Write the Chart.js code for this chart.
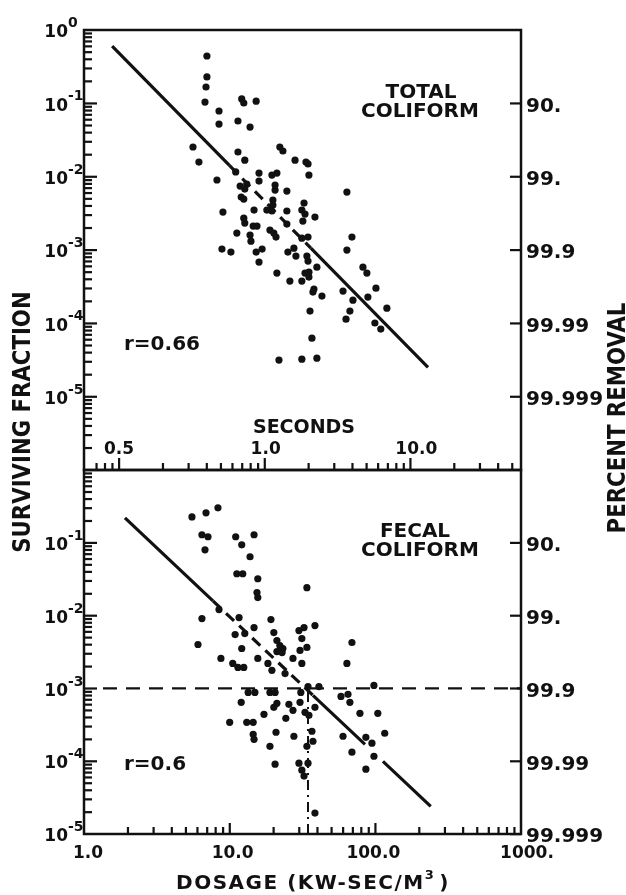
<!DOCTYPE html>
<html>
<head>
<meta charset="utf-8">
<script src="https://cdn.jsdelivr.net/npm/chart.js@4.4.0/dist/chart.umd.min.js"></script>
<style>
  html, body { margin: 0; background: #fff; }
  #wrap { position: relative; width: 626px; height: 895px; }
  #wrap canvas { position: absolute; left: 0; top: 0; }
</style>
</head>
<body>
<div id="wrap">
  <canvas id="topChart" width="626" height="895"></canvas>
  <canvas id="botChart" width="626" height="895"></canvas>
</div>
<script>
// ---- total coliform (top panel): dosage kW-sec/m3 vs surviving fraction
const totalDose = [
  6.98, 6.98, 6.88, 6.77, 8.45, 8.45, 12.1, 12.5, 15.2, 11.4,
  13.8, 5.60, 6.15, 11.4, 12.7, 22.1, 23.2, 28.1, 33.4, 34.5,
  35.0, 8.18, 11.0, 15.9, 15.9, 19.5, 21.1, 11.8, 13.1, 12.7,
  12.0, 12.5, 20.5, 20.5, 24.7, 8.99, 14.7, 18.0, 19.5, 19.8,
  19.8, 24.7, 32.4, 31.3, 32.9, 31.8, 38.5, 12.5, 12.7, 14.5,
  15.4, 24.7, 11.2, 13.8, 14.0, 18.9, 20.1, 20.8, 31.3, 34.5,
  8.85, 10.2, 15.2, 16.7, 15.9, 25.1, 27.6, 28.5, 33.9, 34.5,
  39.7, 32.9, 35.0, 35.0, 21.1, 25.9, 31.3, 37.9, 37.3, 43.0,
  35.6, 36.7, 21.8, 31.3, 39.7, 63.8, 69.1, 63.8, 82.2, 87.5,
  60.0, 70.2, 101, 88.9, 66.9, 62.9, 120, 99.3, 109
];
const totalFrac = [
  0.442, 0.229, 0.167, 0.104, 0.0786, 0.0522, 0.115, 0.101, 0.107, 0.0574,
  0.0475, 0.0254, 0.0158, 0.0217, 0.0168, 0.0254, 0.0224, 0.0168, 0.0158, 0.0149,
  0.0105, 0.0090, 0.0116, 0.0112, 0.0087, 0.0105, 0.0112, 0.00745, 0.00792, 0.00678,
  0.00527, 0.00495, 0.00768, 0.00656, 0.00637, 0.00329, 0.00350, 0.00350, 0.00340, 0.00480,
  0.00410, 0.00340, 0.00437, 0.00350, 0.00309, 0.00248, 0.00281, 0.00272, 0.00233, 0.00212,
  0.00212, 0.00226, 0.00170, 0.00160, 0.00132, 0.00187, 0.00170, 0.00150, 0.00145, 0.00150,
  0.00103, 0.000936, 0.000936, 0.00103, 0.000684, 0.000936, 0.00106, 0.000826, 0.000826, 0.000706,
  0.000584, 0.000484, 0.000499, 0.000427, 0.000484, 0.000377, 0.000377, 0.000293, 0.000267, 0.000235,
  0.000147, 0.0000628, 0.0000315, 0.0000325, 0.0000335, 0.00617, 0.00150, 0.000997, 0.000584, 0.000484,
  0.000275, 0.000207, 0.000302, 0.000228, 0.000147, 0.000114, 0.000161, 0.000101, 0.0000834
];
// regression line, broken where it runs through the dots
const totalFitDose = [1.56, 10.0, 36.1, 230];
const totalFitFrac = [0.605, 0.0141, 0.00106, 0.000025];

// ---- fecal coliform (bottom panel)
const fecalDose = [
  5.51, 6.88, 8.31, 6.45, 7.10, 6.77, 11.0, 12.1, 14.7, 13.8,
  11.2, 12.3, 15.6, 15.4, 15.6, 33.9, 8.45, 6.45, 6.06, 11.6,
  10.9, 12.7, 14.7, 12.1, 19.2, 20.1, 21.1, 22.1, 23.2, 21.1,
  22.9, 29.9, 32.4, 38.5, 31.3, 30.4, 33.9, 8.71, 15.6, 27.2,
  31.3, 18.3, 19.5, 10.5, 11.4, 12.5, 24.0,
  13.4, 14.9, 18.9, 20.5, 30.8, 34.5, 41.0,
  12.0, 21.1, 20.1, 25.5, 27.2, 30.4, 32.9, 35.0, 38.5, 17.2,
  24.3, 10.0, 13.1, 14.5, 20.8, 27.6, 14.5, 14.7, 36.7, 37.3,
  18.9, 33.9, 20.5, 29.9, 34.5, 31.3, 32.4, 38.5, 69.1, 63.8,
  58.1, 64.9, 66.9, 97.8, 78.4, 104, 60.0, 86.1, 94.8, 116, 69.1, 97.8, 86.1
];
const fecalFrac = [
  0.227, 0.258, 0.302, 0.129, 0.121, 0.0802, 0.121, 0.0939, 0.129, 0.0643,
  0.0376, 0.0376, 0.0321, 0.0207, 0.0177, 0.0242, 0.0121, 0.00910, 0.00401, 0.00940,
  0.00549, 0.00567, 0.00685, 0.00353, 0.00881, 0.00585, 0.00455, 0.00388, 0.00353, 0.00321,
  0.00311, 0.00623, 0.00685, 0.00730, 0.00484, 0.00332, 0.00365, 0.00258, 0.00258, 0.00258,
  0.00220, 0.00220, 0.00177, 0.00220, 0.00194, 0.00194, 0.00160,
  0.000881, 0.000881, 0.000881, 0.000881, 0.000881, 0.00106, 0.00106,
  0.000643, 0.000623, 0.000550, 0.000604, 0.000500, 0.000643, 0.000469, 0.000427, 0.000550, 0.000441,
  0.000388, 0.000342, 0.000342, 0.000342, 0.000250, 0.000220, 0.000234, 0.000200, 0.000258, 0.000188,
  0.000160, 0.000160, 0.0000910, 0.0000939, 0.0000939, 0.0000753, 0.0000624, 0.0000194, 0.00427, 0.00220,
  0.000777, 0.000828, 0.000643, 0.00110, 0.000455, 0.000455, 0.000220, 0.000213, 0.000177, 0.000242,
  0.000133, 0.000117, 0.0000777
];
const fecalFitDose = [1.91, 7.68, 37.3, 84.9, 112.8, 240];
const fecalFitFrac = [0.22, 0.0159, 0.000804, 0.000170, 0.0000997, 0.000024];
// 99.9 % removal guide lines
const limitFrac = 0.001;
const limitDose = 34.5;
const limitStartDose = 1.35;

// ---- axes
const doseTicks = [1, 10, 100, 1000];
const doseTickLabels = ['1.0', '10.0', '100.0', '1000.'];
const secTicks = [0.1, 1, 10];
const secTickLabels = ['0.5', '1.0', '10.0'];   // as printed on the original
const secRange = [0.0575, 57.5];                 // seconds matching dosage 1 .. 1000
const totalExps = [0, -1, -2, -3, -4, -5];
const fecalExps = [-1, -2, -3, -4, -5];
const removalFrac = [1e-1, 1e-2, 1e-3, 1e-4, 1e-5];
const removalLabels = ['90.', '99.', '99.9', '99.99', '99.999'];

const INK = '#111';
const FONT = '"DejaVu Sans", sans-serif';

function logTicks(min, max) {
  const out = [];
  for (let e = Math.floor(Math.log10(min)); e <= Math.ceil(Math.log10(max)); e++) {
    for (let m = 1; m <= 9; m++) {
      const v = m * Math.pow(10, e);
      if (v >= min * 0.999 && v <= max * 1.001) out.push({ v: v, major: m === 1 });
    }
  }
  return out;
}

// text centred vertically on cy (cap height)
function text(ctx, str, x, cy, size, align) {
  ctx.font = 'bold ' + size + 'px ' + FONT;
  ctx.textAlign = align;
  ctx.textBaseline = 'alphabetic';
  ctx.fillText(str, x, cy + size * 0.365);
}

function scatterSet(xs, ys) {
  return {
    data: xs.map((x, i) => ({ x: x, y: ys[i] })),
    pointRadius: 3.6, pointBackgroundColor: INK, pointBorderWidth: 0, showLine: false
  };
}

function segSet(xs, ys, i, j, dash, width) {
  return {
    data: [{ x: xs[i], y: ys[i] }, { x: xs[j], y: ys[j] }],
    showLine: true, pointRadius: 0, borderColor: INK,
    borderWidth: width || 3.2, borderDash: dash || []
  };
}

function panelFrame(p) {
  return {
    id: 'panelframe',
    afterDraw(chart) {
      const ctx = chart.ctx, a = chart.chartArea;
      const ys = chart.scales.y, xs = chart.scales[p.xScale];
      ctx.save();
      ctx.setLineDash([]);
      ctx.strokeStyle = INK;
      ctx.fillStyle = INK;
      ctx.lineWidth = 2.5;
      ctx.strokeRect(a.left, a.top, a.right - a.left, a.bottom - a.top);

      // left axis ticks, pointing in
      logTicks(ys.min, ys.max).forEach(k => {
        const y = ys.getPixelForValue(k.v);
        if (y > a.top + 2 && y < a.bottom - 2) ctx.fillRect(a.left, y - 1, k.major ? 13 : 8, 2.2);
      });
      // right axis ticks (percent removal)
      removalFrac.forEach(v => {
        const y = ys.getPixelForValue(v);
        ctx.fillRect(a.right - 11, y - 1, 11, 2.2);
      });
      // bottom axis ticks, pointing up
      logTicks(xs.min, xs.max).forEach(k => {
        const x = xs.getPixelForValue(k.v);
        const len = k.major ? p.majorLen : p.minorLen;
        if (x > a.left + 4 && x < a.right - 3) ctx.fillRect(x - 1, a.bottom - len, 2.2, len);
      });

      // left labels 10^n
      p.exps.forEach(e => {
        const y = ys.getPixelForValue(Math.pow(10, e));
        text(ctx, '10', 68, y + 1, 17, 'right');
        text(ctx, String(e), 68, y - 8, 14, 'left');
      });
      // right labels
      removalFrac.forEach((v, i) => {
        text(ctx, removalLabels[i], 526, ys.getPixelForValue(v) + 1, 20, 'left');
      });
      // bottom tick labels
      p.xTicks.forEach((v, i) => {
        text(ctx, p.xLabels[i], xs.getPixelForValue(v) + p.xLabelShift[i], p.xLabelY, 17, 'center');
      });
      // panel name and correlation
      text(ctx, p.name[0], p.nameX[0], p.nameY, 20, 'center');
      text(ctx, p.name[1], p.nameX[1], p.nameY + 19, 20, 'center');
      text(ctx, p.r, 124, p.rY, 20, 'left');
      if (p.extra) p.extra(ctx);
      ctx.restore();
    }
  };
}

function options(yMin, padding, extra) {
  const scales = {
    x: { type: 'logarithmic', min: 1, max: 1000, display: false },
    y: { type: 'logarithmic', min: yMin, max: 1, display: false }
  };
  if (extra) Object.assign(scales, extra);
  return {
    responsive: false, animation: false, devicePixelRatio: 1,
    layout: { padding: padding },
    plugins: { legend: { display: false }, tooltip: { enabled: false } },
    scales: scales
  };
}

new Chart(document.getElementById('topChart'), {
  type: 'scatter',
  data: {
    datasets: [
      scatterSet(totalDose, totalFrac),
      segSet(totalFitDose, totalFitFrac, 0, 1),
      segSet(totalFitDose, totalFitFrac, 1, 2, [11, 7]),
      segSet(totalFitDose, totalFitFrac, 2, 3)
    ]
  },
  options: options(1e-6, { left: 84, right: 105, top: 30, bottom: 425 }, {
    sec: { type: 'logarithmic', axis: 'x', min: secRange[0], max: secRange[1], display: false }
  }),
  plugins: [panelFrame({
    xScale: 'sec', majorLen: 12, minorLen: 7,
    exps: totalExps, xTicks: secTicks, xLabels: secTickLabels, xLabelShift: [0, 1, 6], xLabelY: 448,
    name: ['TOTAL', 'COLIFORM'], nameX: [421, 420], nameY: 90.5,
    r: 'r=0.66', rY: 343,
    extra(ctx) { text(ctx, 'SECONDS', 304, 426, 19, 'center'); }
  })]
});

new Chart(document.getElementById('botChart'), {
  type: 'scatter',
  data: {
    datasets: [
      scatterSet(fecalDose, fecalFrac),
      segSet(fecalFitDose, fecalFitFrac, 0, 1),
      segSet(fecalFitDose, fecalFitFrac, 1, 2, [11, 7]),
      segSet(fecalFitDose, fecalFitFrac, 2, 3),
      segSet(fecalFitDose, fecalFitFrac, 4, 5),
      segSet([limitStartDose, 1000], [limitFrac, limitFrac], 0, 1, [14, 9], 2.2),
      segSet([limitDose, limitDose], [1e-5, limitFrac], 0, 1, [10, 5, 2, 5], 2)
    ]
  },
  options: options(1e-5, { left: 84, right: 105, top: 470, bottom: 61 }),
  plugins: [panelFrame({
    xScale: 'x', majorLen: 11, minorLen: 7,
    exps: fecalExps, xTicks: doseTicks, xLabels: doseTickLabels, xLabelShift: [4, 3, -2, 6], xLabelY: 852,
    name: ['FECAL', 'COLIFORM'], nameX: [415, 420], nameY: 530,
    r: 'r=0.6', rY: 763,
    extra(ctx) {
      // axis title with superscript
      ctx.font = 'bold 20px ' + FONT;
      if ('letterSpacing' in ctx) ctx.letterSpacing = '1.5px';
      const main = 'DOSAGE (KW-SEC/M', tail = ')';
      const w1 = ctx.measureText(main).width;
      ctx.font = 'bold 13px ' + FONT;
      const w2 = ctx.measureText('3').width;
      ctx.font = 'bold 20px ' + FONT;
      const w3 = ctx.measureText(tail).width;
      let x = 313 - (w1 + w2 + w3 + 4) / 2;
      text(ctx, main, x, 882, 20, 'left'); x += w1;
      text(ctx, '3', x, 874, 13, 'left'); x += w2 + 4;
      text(ctx, tail, x, 882, 20, 'left');
      if ('letterSpacing' in ctx) ctx.letterSpacing = '0px';
      // rotated, condensed titles spanning both panels
      [['SURVIVING FRACTION', 21, 422], ['PERCENT REMOVAL', 616, 418]].forEach(t => {
        ctx.save();
        ctx.translate(t[1], t[2]);
        ctx.rotate(-Math.PI / 2);
        ctx.scale(0.85, 1);
        text(ctx, t[0], 0, 0, 25, 'center');
        ctx.restore();
      });
    }
  })]
});
</script>
</body>
</html>
